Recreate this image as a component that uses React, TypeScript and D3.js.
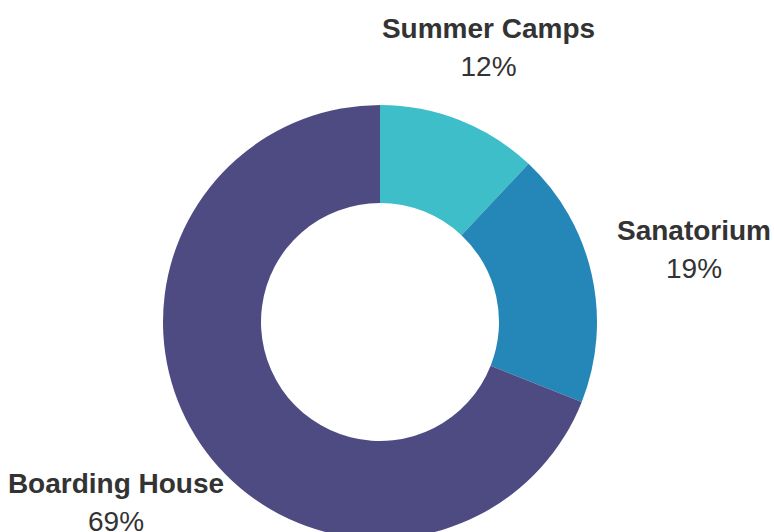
import React from "react";
import * as d3 from "d3";

const categories = ["Summer Camps", "Sanatorium", "Boarding House"];
const values = [12, 19, 69];
const colors = ["#3dbec9", "#2587b7", "#4e4b83"];

// label layout (text block center x, first baseline y), separate from data
const labelLayout = [
  { x: 488.5, y: 38, anchor: "middle" },
  { x: 694, y: 240, anchor: "middle" },
  { x: 116, y: 493, anchor: "middle" },
];

const W = 774;
const H = 532;
const cx = 380;
const cy = 322;
const outerR = 217;
const innerR = 119;

export default function App() {
  const pie = d3
    .pie<number>()
    .sort(null)
    .startAngle(0)
    .endAngle(2 * Math.PI)
    .value((d) => d);
  const arcs = pie(values);
  const arc = d3
    .arc<d3.PieArcDatum<number>>()
    .innerRadius(innerR)
    .outerRadius(outerR);
  const total = d3.sum(values);

  return (
    <svg
      width={W}
      height={H}
      style={{ position: "absolute", left: 0, top: 0, background: "#fff" }}
      fontFamily="'Liberation Sans', Arial, sans-serif"
    >
      <g transform={`translate(${cx},${cy})`}>
        {arcs.map((a, i) => (
          <path key={i} d={arc(a) || ""} fill={colors[i]} />
        ))}
      </g>
      {arcs.map((a, i) => {
        const l = labelLayout[i];
        return (
          <g key={"l" + i} fill="#333333" textAnchor={l.anchor as any}>
            <text x={l.x} y={l.y} fontSize={28} fontWeight="bold">
              {categories[i]}
            </text>
            <text x={l.x} y={l.y + 38} fontSize={28}>
              {Math.round((values[i] / total) * 100)}%
            </text>
          </g>
        );
      })}
    </svg>
  );
}
